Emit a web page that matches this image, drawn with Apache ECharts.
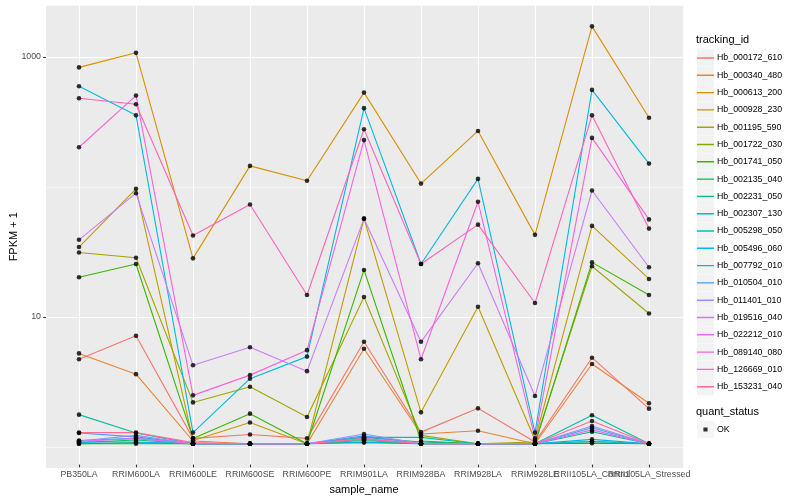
<!DOCTYPE html>
<html>
<head>
<meta charset="utf-8">
<script src="https://cdn.jsdelivr.net/npm/echarts@6/dist/echarts.min.js"></script>
<style>
  html, body { margin: 0; padding: 0; background: #ffffff; }
  #chart { width: 800px; height: 500px; }
</style>
</head>
<body>
<div id="chart"></div>
<script>
// ---------- data (FPKM + 1) ----------
const categories = ['PB350LA', 'RRIM600LA', 'RRIM600LE', 'RRIM600SE', 'RRIM600PE', 'RRIM901LA',
  'RRIM928BA', 'RRIM928LA', 'RRIM928LE', 'RRII105LA_Control', 'RRII105LA_Stressed'];

const trackingIds = ['Hb_000172_610', 'Hb_000340_480', 'Hb_000613_200', 'Hb_000928_230', 'Hb_001195_590',
  'Hb_001722_030', 'Hb_001741_050', 'Hb_002135_040', 'Hb_002231_050', 'Hb_002307_130',
  'Hb_005298_050', 'Hb_005496_060', 'Hb_007792_010', 'Hb_010504_010', 'Hb_011401_010',
  'Hb_019516_040', 'Hb_022212_010', 'Hb_089140_080', 'Hb_126669_010', 'Hb_153231_040'];

const Hb_000172_610 = [4.51, 6.85, 1.10, 1.18, 1.10, 6.16, 1.23, 1.88, 1.03, 4.64, 1.87];
const Hb_000340_480 = [5.01, 3.46, 1.05, 1.0, 1.0, 5.44, 1.19, 1.26, 1.0, 4.15, 2.06];
const Hb_000613_200 = [823, 1067, 27.3, 142, 109, 525, 103.6, 265, 41.5, 1711, 335];
const Hb_000928_230 = [33.4, 94.3, 1.06, 1.46, 1.0, 55.4, 1.75, 11.5, 1.07, 48.7, 18.9];
const Hb_001195_590 = [30.3, 27.6, 2.09, 2.76, 1.61, 13.7, 1.16, 1.0, 1.03, 23.7, 10.2];
const Hb_001722_030 = [1.0, 1.02, 1.0, 1.0, 1.0, 1.06, 1.0, 1.0, 1.0, 1.04, 1.0];
const Hb_001741_050 = [19.5, 24.7, 1.10, 1.71, 1.0, 22.2, 1.05, 1.0, 1.0, 25.4, 14.2];
const Hb_002135_040 = [1.0, 1.0, 1.0, 1.0, 1.0, 1.03, 1.0, 1.0, 1.0, 1.01, 1.0];
const Hb_002231_050 = [1.02, 1.07, 1.0, 1.0, 1.0, 1.12, 1.03, 1.0, 1.0, 1.24, 1.0];
const Hb_002307_130 = [1.68, 1.21, 1.0, 1.0, 1.0, 1.12, 1.12, 1.0, 1.0, 1.66, 1.0];
const Hb_005298_050 = [1.06, 1.10, 1.0, 1.0, 1.0, 1.08, 1.0, 1.0, 1.0, 1.04, 1.0];
const Hb_005496_060 = [588, 350, 1.22, 3.19, 4.73, 398, 24.7, 112.6, 1.22, 551, 148];
const Hb_007792_010 = [1.03, 1.03, 1.0, 1.0, 1.0, 1.02, 1.0, 1.0, 1.0, 1.08, 1.0];
const Hb_010504_010 = [1.21, 1.13, 1.0, 1.0, 1.0, 1.15, 1.0, 1.0, 1.0, 1.33, 1.0];
const Hb_011401_010 = [1.05, 1.16, 1.0, 1.0, 1.0, 1.19, 1.0, 1.0, 1.0, 1.37, 1.0];
const Hb_019516_040 = [38.0, 87.3, 4.05, 5.59, 3.65, 55.4, 6.16, 25.0, 2.34, 91.5, 23.3];
const Hb_022212_010 = [1.04, 1.10, 1.0, 1.0, 1.0, 1.10, 1.0, 1.0, 1.0, 1.28, 1.0];
const Hb_089140_080 = [198, 498, 2.37, 3.40, 5.31, 225, 4.51, 74.9, 1.10, 234, 54.7];
const Hb_126669_010 = [475, 427, 41.0, 71.4, 14.2, 273, 24.7, 49.8, 12.3, 350, 46.4];
const Hb_153231_040 = [1.22, 1.22, 1.02, 1.0, 1.0, 1.09, 1.0, 1.0, 1.0, 1.50, 1.0];

const seriesValues = [Hb_000172_610, Hb_000340_480, Hb_000613_200, Hb_000928_230, Hb_001195_590,
  Hb_001722_030, Hb_001741_050, Hb_002135_040, Hb_002231_050, Hb_002307_130,
  Hb_005298_050, Hb_005496_060, Hb_007792_010, Hb_010504_010, Hb_011401_010,
  Hb_019516_040, Hb_022212_010, Hb_089140_080, Hb_126669_010, Hb_153231_040];

const quantStatus = ['OK'];
const yTickValues = [10, 1000];

// ---------- styles ----------
const palette = ['#F8766D', '#EA8331', '#D89000', '#C09B00', '#A3A500', '#7CAE00', '#39B600', '#00BB4E',
  '#00BF7D', '#00C1A3', '#00BFC4', '#00BAE0', '#00B0F6', '#35A2FF', '#9590FF', '#C77CFF',
  '#E76BF3', '#FA62DB', '#FF62BC', '#FF6C91'];
const FONT = '"Liberation Sans", Arial, Helvetica, sans-serif';

// y range: log10 extent of data expanded 5% each side (ggplot default)
let lo = Infinity, hi = -Infinity;
seriesValues.forEach(a => a.forEach(v => { lo = Math.min(lo, v); hi = Math.max(hi, v); }));
const lLo = Math.log10(lo), lHi = Math.log10(hi), span = lHi - lLo;
const yMin = Math.pow(10, lLo - 0.05 * span);
const yMax = Math.pow(10, lHi + 0.05 * span);

const lineKey = 'path://M0,0h0.01v0.01h-0.01z M0,7.8h17v1.4h-17z M16.99,16.99h0.01v0.01h-0.01z';
const pointKey = 'path://M0,0h0.01v0.01h-0.01z M6.4,6.4h4.2v4.2h-4.2z M16.99,16.99h0.01v0.01h-0.01z';

const lineSeries = trackingIds.map((id, k) => ({
  type: 'line', name: id, xAxisIndex: 1, yAxisIndex: 2,
  data: seriesValues[k], symbol: 'none', silent: true, z: 2,
  color: palette[k],
  lineStyle: { width: 1.1, color: palette[k] },
  itemStyle: { color: palette[k] },
  emphasis: { disabled: true }
}));

const pointData = [];
seriesValues.forEach(arr => arr.forEach((v, i) => pointData.push([i, v])));

const legendCommon = {
  orient: 'vertical', left: 697, padding: 0, itemWidth: 17, itemHeight: 17, itemGap: 0.3,
  selectedMode: false, textStyle: { fontSize: 8.8, color: '#000000', fontFamily: FONT, padding: [0, 0, 0, -2] }
};

const isTick = v => yTickValues.some(t => Math.abs(t - v) < 1e-6 * t);

const option = {
  animation: false,
  backgroundColor: '#FFFFFF',
  textStyle: { fontFamily: FONT },
  title: [
    { text: 'tracking_id', left: 696, top: 34, padding: 0,
      textStyle: { fontSize: 11, fontWeight: 'normal', color: '#000000', fontFamily: FONT } },
    { text: 'quant_status', left: 696, top: 406, padding: 0,
      textStyle: { fontSize: 11, fontWeight: 'normal', color: '#000000', fontFamily: FONT } }
  ],
  legend: [
    Object.assign({}, legendCommon, { top: 49.5, data: trackingIds, icon: 'rect', z: 4,
      formatter: () => '', itemStyle: { color: '#F2F2F2', borderWidth: 0 } }),
    Object.assign({}, legendCommon, { top: 49.5, data: trackingIds, icon: lineKey, z: 5,
      itemStyle: { borderWidth: 0 } }),
    Object.assign({}, legendCommon, { top: 421, data: quantStatus, icon: 'rect', z: 4,
      formatter: () => '', itemStyle: { color: '#F2F2F2', borderWidth: 0 } }),
    Object.assign({}, legendCommon, { top: 421, data: quantStatus, icon: pointKey, z: 5,
      itemStyle: { borderWidth: 0 } })
  ],
  grid: [
    { left: 44.8, right: 116.8, top: 5.5, bottom: 32, show: true, backgroundColor: '#EBEBEB', borderWidth: 0 },
    { left: 79, right: 151, top: 5.5, bottom: 32 }
  ],
  xAxis: [
    { gridIndex: 0, type: 'value', show: false, min: 0, max: 1 },
    { gridIndex: 1, type: 'category', data: categories, boundaryGap: false,
      axisLine: { show: false },
      axisTick: { show: true, interval: 0, length: 2.75, lineStyle: { color: '#333333', width: 1.07 } },
      axisLabel: { interval: 0, fontSize: 8.8, color: '#4D4D4D', margin: 5.5, fontFamily: FONT },
      splitLine: { show: true, interval: 0, lineStyle: { color: '#FFFFFF', width: 1.07 } },
      name: 'sample_name', nameLocation: 'middle', nameGap: 15.5,
      nameTextStyle: { fontSize: 11, color: '#000000', fontFamily: FONT } }
  ],
  yAxis: [
    { gridIndex: 0, type: 'log', min: yMin, max: yMax, position: 'left',
      axisLine: { show: false }, axisTick: { show: false }, axisLabel: { show: false },
      splitLine: { show: true, lineStyle: { color: '#FFFFFF', width: 0.55 } },
      name: 'FPKM + 1', nameLocation: 'middle', nameGap: 27,
      nameTextStyle: { fontSize: 11, color: '#000000', fontFamily: FONT } },
    { gridIndex: 0, type: 'log', min: yMin, max: yMax, position: 'left',
      axisLine: { show: false },
      axisTick: { show: true, customValues: yTickValues, length: 2.75, lineStyle: { color: '#333333', width: 1.07 } },
      axisLabel: { show: true, customValues: yTickValues, fontSize: 8.8, color: '#4D4D4D', margin: 5, fontFamily: FONT,
        formatter: v => (isTick(v) ? String(Math.round(v)) : '') },
      splitLine: { show: true, lineStyle: { color: '#FFFFFF', width: 1.07 } } },
    { gridIndex: 1, type: 'log', min: yMin, max: yMax, show: false }
  ],
  series: lineSeries.concat([{
    type: 'scatter', name: 'OK', xAxisIndex: 1, yAxisIndex: 2, data: pointData,
    symbol: 'circle', symbolSize: 4.6, clip: false, silent: true, z: 3,
    itemStyle: { color: '#000000' }, emphasis: { disabled: true }
  }])
};

const chart = echarts.init(document.getElementById('chart'), null, { renderer: 'canvas' });
chart.setOption(option);
</script>
</body>
</html>
